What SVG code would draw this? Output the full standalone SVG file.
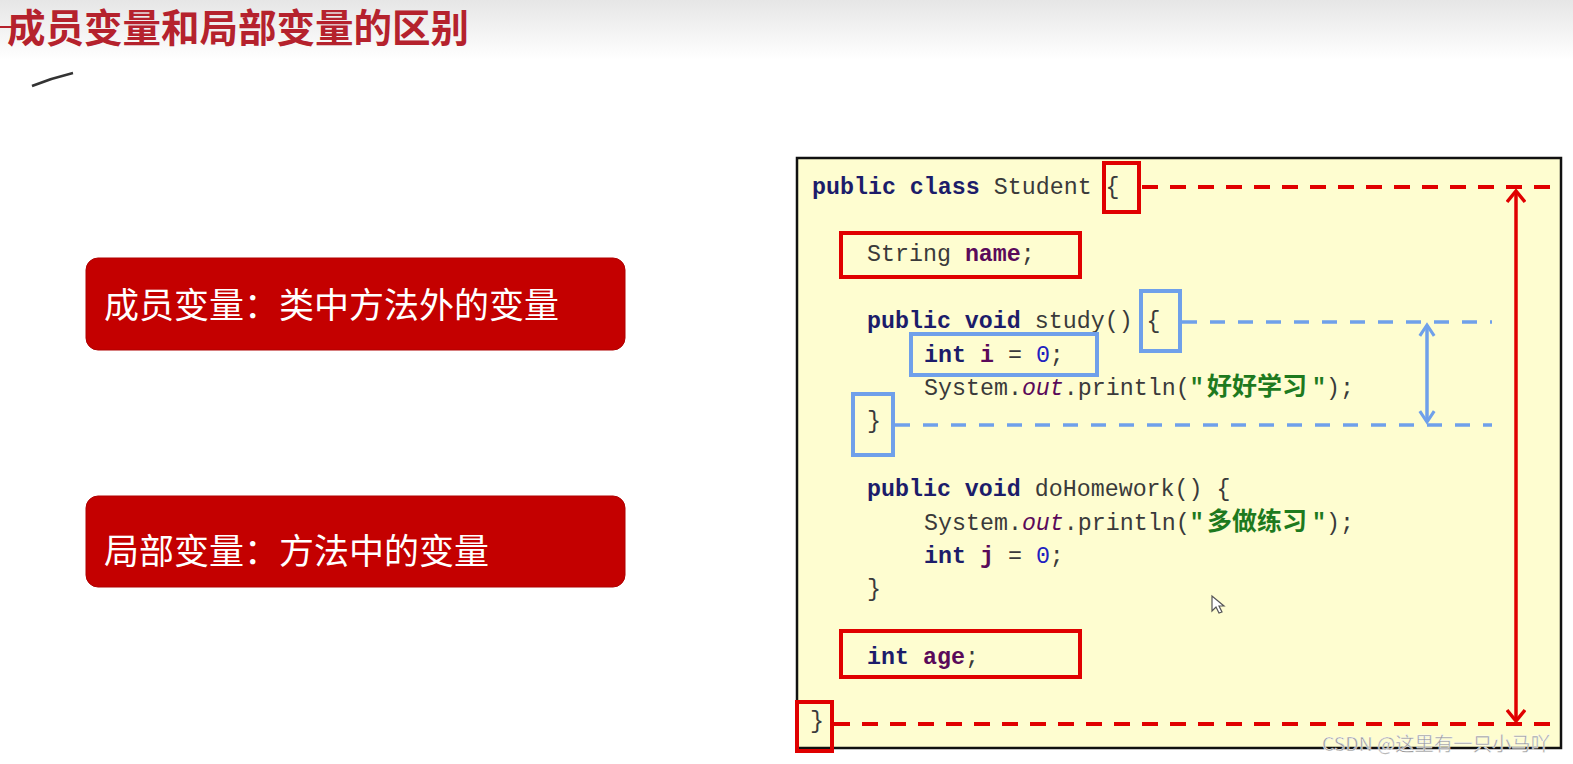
<svg xmlns="http://www.w3.org/2000/svg" width="1573" height="764" viewBox="0 0 1573 764">
<style>
.code{font-family:"Liberation Mono","DejaVu Sans Mono",monospace;font-size:23.3px;fill:#3a3a3a}
.kw{fill:#1c1c6a;font-weight:bold}
.id{fill:#5a0a5a;font-weight:bold}
.num{fill:#2020c0}
.it{fill:#5a0a5a;font-style:italic}
.str{font-family:"Noto Sans CJK SC","Liberation Sans",sans-serif;font-size:25px;font-weight:bold;fill:#1e7a1e}
.q{fill:#1e7a1e;font-weight:bold}
.rbox{fill:none;stroke:#e00000;stroke-width:4}
.bbox{fill:none;stroke:#6fa0ea;stroke-width:4}
.rdash{stroke:#e00000;stroke-width:4;stroke-dasharray:16 12;fill:none}
.bdash{stroke:#6fa0ea;stroke-width:3.5;stroke-dasharray:15 13;fill:none}
.lbl{font-family:"Noto Sans CJK SC","Liberation Sans",sans-serif;font-size:35px;fill:#ffffff}
.pill{fill:#c40000;stroke:#b00000;stroke-width:1}
</style>
<defs>
<linearGradient id="top" x1="0" y1="0" x2="0" y2="1">
<stop offset="0" stop-color="#e6e6e6"/>
<stop offset="1" stop-color="#ffffff"/>
</linearGradient>
<marker id="rh" viewBox="0 0 20 20" refX="17" refY="10" markerWidth="20" markerHeight="20" markerUnits="userSpaceOnUse" orient="auto-start-reverse">
<path d="M6 1 L17 10 L6 19" fill="none" stroke="#e00000" stroke-width="3.5"/>
</marker>
<marker id="bh" viewBox="0 0 20 20" refX="17" refY="10" markerWidth="18" markerHeight="18" markerUnits="userSpaceOnUse" orient="auto-start-reverse">
<path d="M5 2 L17 10 L5 18" fill="none" stroke="#6fa0ea" stroke-width="3.5"/>
</marker>
</defs>
<rect width="1573" height="764" fill="#ffffff"/>
<rect width="1573" height="60" fill="url(#top)"/>

<g id="title">
<text x="7" y="42" font-family="Noto Sans CJK SC,Liberation Sans,sans-serif" font-size="38.5" font-weight="bold" fill="#b5222d">成员变量和局部变量的区别</text>
<line x1="0" y1="27" x2="12" y2="27" stroke="#b5222d" stroke-width="2"/>
<path d="M32 86 Q52 78 73 73" fill="none" stroke="#333" stroke-width="2.5"/>
</g>

<g id="member-label">
<rect class="pill" x="86" y="258" width="539" height="92" rx="12"/>
<text class="lbl" x="104" y="318">成员变量：类中方法外的变量</text>
</g>
<g id="local-label">
<rect class="pill" x="86" y="496" width="539" height="91" rx="12"/>
<text class="lbl" x="104" y="564">局部变量：方法中的变量</text>
</g>

<g id="code-panel">
<rect x="797" y="158" width="764" height="590" fill="#fefdd0" stroke="#111" stroke-width="2.5"/>
<text class="code" x="812" y="194"><tspan class="kw">public class</tspan> Student {</text>
<text class="code" x="867" y="261">String <tspan class="id">name</tspan>;</text>
<text class="code" x="867" y="328"><tspan class="kw">public void</tspan> study() {</text>
<text class="code" x="924" y="362"><tspan class="kw">int</tspan> <tspan class="id">i</tspan> = <tspan class="num">0</tspan>;</text>
<text class="code" x="924" y="395">System.<tspan class="it">out</tspan>.println(<tspan class="q">"</tspan></text>
<text class="str" x="1207" y="395">好好学习</text>
<text class="code" x="1312" y="395"><tspan class="q">"</tspan>);</text>
<text class="code" x="867" y="428">}</text>
<text class="code" x="867" y="496"><tspan class="kw">public void</tspan> doHomework() {</text>
<text class="code" x="924" y="530">System.<tspan class="it">out</tspan>.println(<tspan class="q">"</tspan></text>
<text class="str" x="1207" y="530">多做练习</text>
<text class="code" x="1312" y="530"><tspan class="q">"</tspan>);</text>
<text class="code" x="924" y="563"><tspan class="kw">int</tspan> <tspan class="id">j</tspan> = <tspan class="num">0</tspan>;</text>
<text class="code" x="867" y="596">}</text>
<text class="code" x="867" y="664"><tspan class="kw">int</tspan> <tspan class="id">age</tspan>;</text>
<text class="code" x="810" y="728">}</text>
<path d="M1212 596 L1212 611 L1216 607 L1219 613 L1222 612 L1219 606 L1224 606 Z" fill="#ffffff" stroke="#555" stroke-width="1.2"/>
</g>

<g id="highlights">
<rect class="rbox" x="1104" y="163" width="35" height="49"/>
<rect class="rbox" x="841" y="233" width="239" height="44"/>
<rect class="bbox" x="1141" y="291" width="39" height="60"/>
<rect class="bbox" x="911" y="334" width="186" height="41"/>
<rect class="bbox" x="853" y="394" width="40" height="61"/>
<rect class="rbox" x="841" y="631" width="239" height="46"/>
<rect class="rbox" x="797" y="702" width="35" height="49"/>
</g>

<g id="connectors">
<line class="rdash" x1="1142" y1="187" x2="1561" y2="187"/>
<line class="rdash" x1="834" y1="724" x2="1561" y2="724"/>
<line class="bdash" x1="1182" y1="322" x2="1492" y2="322"/>
<line class="bdash" x1="895" y1="425" x2="1492" y2="425"/>
<line x1="1516" y1="191" x2="1516" y2="721" stroke="#e00000" stroke-width="3.5" marker-start="url(#rh)" marker-end="url(#rh)"/>
<line x1="1427" y1="325" x2="1427" y2="422" stroke="#6fa0ea" stroke-width="3.5" marker-start="url(#bh)" marker-end="url(#bh)"/>
</g>

<text x="1322" y="751" font-family="Noto Sans CJK SC,Liberation Sans,sans-serif" font-size="19" textLength="228" lengthAdjust="spacingAndGlyphs" fill="#9a9a9a" stroke="#ffffff" stroke-width="0.4">CSDN @这里有一只小马吖</text>
</svg>
